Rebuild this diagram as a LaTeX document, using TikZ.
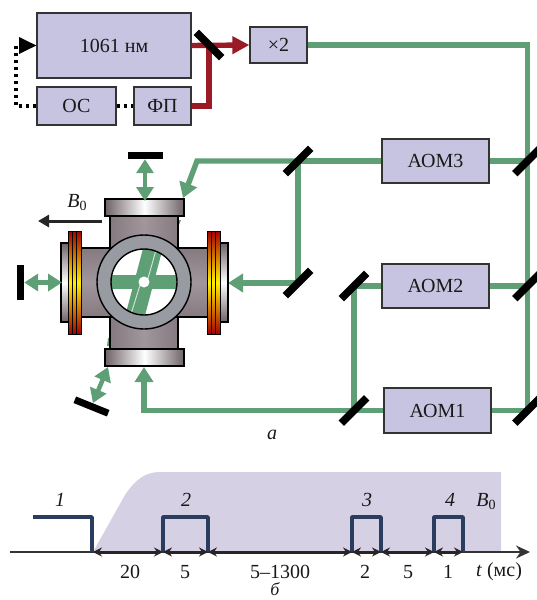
\documentclass[tikz,border=0pt]{standalone}
\usepackage{fontspec}
\setmainfont{Liberation Serif}
\usetikzlibrary{arrows.meta,calc}
\definecolor{boxc}{HTML}{C6C4E1}
\definecolor{beamg}{HTML}{5F9F76}
\definecolor{beamr}{HTML}{9A1B25}
\definecolor{area}{HTML}{D5D0E3}
\definecolor{pulse}{HTML}{2B3D5E}
\definecolor{tube}{HTML}{857A80}
\definecolor{tubel}{HTML}{A0969C}
\definecolor{flange}{HTML}{6E6266}
\definecolor{ringc}{HTML}{999BA2}
\newcommand{\bzero}{\textit{B}\raisebox{-3pt}{\fontsize{14}{14}\selectfont 0}}
\tikzset{
  lbox/.style={draw=black!80,line width=1.3pt,fill=boxc,inner sep=0pt,font=\fontsize{20}{20}\selectfont,text=black!90},
  beam/.style={draw=beamg,line width=5.4pt},
  rbeam/.style={draw=beamr,line width=5.4pt},
  gtip/.style={beam,-{Triangle[length=15pt,width=18pt]}},
  dbl/.style={draw=beamg,line width=4.5pt,{Triangle[length=14pt,width=17pt]}-{Triangle[length=14pt,width=17pt]}},
  mirror/.style={fill=black,inner sep=0pt,minimum width=36pt,minimum height=7.5pt},
  stop/.style={fill=black,inner sep=0pt},
  dots/.style={draw=black,line width=3.5pt,dash pattern=on 3.5pt off 3.5pt},
  pulseln/.style={draw=pulse,line width=3.6pt,line join=round},
  span/.style={draw=black!85,line width=3pt,{Stealth[length=9pt,width=9pt]}-{Stealth[length=9pt,width=9pt]}},
  lab/.style={inner sep=0pt,font=\fontsize{20}{20}\selectfont,text=black!90},
  ilab/.style={inner sep=0pt,font=\fontsize{20}{20}\selectfont\itshape,text=black!90},
  pipe/.style={draw=black,line width=1.4pt},
}
\begin{document}
\begin{tikzpicture}[x=1pt,y=-1pt]
\useasboundingbox (0,0) rectangle (536,600);
% boxes
\node[lbox,minimum width=154pt,minimum height=65pt] (las) at (114,45.5) {1061 нм};
\node[lbox,minimum width=79pt,minimum height=38pt] (os) at (76.5,106) {ОС};
\node[lbox,minimum width=57pt,minimum height=38pt] (fp) at (162.5,106) {ФП};
\node[lbox,minimum width=57pt,minimum height=36pt] (dbl2) at (278.5,45) {×2};
\node[lbox,minimum width=107pt,minimum height=44pt] (aom3) at (435.5,161) {АОМ3};
\node[lbox,minimum width=107pt,minimum height=44pt] (aom2) at (435.5,286) {АОМ2};
\node[lbox,minimum width=107pt,minimum height=45pt] (aom1) at (437.5,410.5) {АОМ1};
% mirror positions
\coordinate (mTop) at (209,45);
\coordinate (cU) at (527.5,45);
\coordinate (mR3) at (527.5,161);
\coordinate (mR2) at (527.5,286);
\coordinate (mR1) at (527.5,410.5);
\coordinate (mL3) at (298,161);
\coordinate (mL4) at (298,283);
\coordinate (mA2) at (354,286);
\coordinate (mA1) at (354,410.5);
\coordinate (cBend) at (197,161);
\coordinate (tipA) at (183,198);
\coordinate (tipB) at (228,283);
\coordinate (tipC) at (144,367);
% dotted feedback
\coordinate (fbA) at (16,106);
\coordinate (fbB) at (16,45.5);
\draw[dots] (os.east) -- (fp.west);
\draw[dots] (os.west) -- (fbA) -- (fbB) -- (20,45.5);
\draw[draw=none,fill=black] (las.west) -- (19,37) -- (19,54) -- cycle;
% red beams
\draw[rbeam,-{Triangle[length=17pt,width=17pt]}] (las.east) -- (dbl2.west);
\draw[rbeam] (fp.east) -| (mTop);
% green beams
\draw[beam] (dbl2.east) -- (cU) -- (mR1) -- (aom1.east);
\draw[beam] (mR3) -- (aom3.east);
\draw[beam] (mR2) -- (aom2.east);
\draw[beam] (aom3.west) -- (mL3) -- (mL4);
\draw[gtip] (mL4) -- (tipB);
\draw[gtip] (mL3) -- (cBend) -- (tipA);
\draw[beam] (aom2.west) -- (mA2) -- (mA1);
\draw[beam] (aom1.west) -- (mA1);
\draw[gtip] (mA1) -- (tipC |- mA1) -- (tipC);
% mirrors
\node[mirror,rotate=-45] (m0) at (mTop) {};
\node[mirror,rotate=45] (m1) at (mR3) {};
\node[mirror,rotate=45] (m2) at (mR2) {};
\node[mirror,rotate=45] (m3) at (mR1) {};
\node[mirror,rotate=45] (m4) at (mL3) {};
\node[mirror,rotate=45] (m5) at (mL4) {};
\node[mirror,rotate=45] (m6) at (mA2) {};
\node[mirror,rotate=45] (m7) at (mA1) {};
% chamber
\fill[beamg] (178,220) -- (181,220) -- (176,232) -- (178,232) -- cycle;
\fill[beamg] (108,338) -- (110,338) -- (110,346) -- (107,346) -- cycle;
\shade[left color=tube,right color=tube,middle color=tubel,pipe] (110,215) rectangle (178,350);
\shade[top color=tube,bottom color=tube,middle color=tubel,pipe] (78,248) rectangle (210,317);
\fill[tubel] (111,249) rectangle (177,316);
\shade[left color=flange,right color=flange,middle color=white,pipe] (105,199) rectangle (184,216);
\shade[left color=flange,right color=flange,middle color=white,pipe] (105,349) rectangle (184,366);
\shade[top color=flange,bottom color=flange,middle color=white,pipe] (61,243) rectangle (70,322);
\shade[top color=flange,bottom color=flange,middle color=white,pipe] (219,243) rectangle (228,322);
% coils
\foreach \cx in {68,72.3,76.6,207,211.3,215.6}{
  \fill[bottom color=red!65!black,top color=red!65!black,middle color=yellow!90!orange]
    (\cx,231) rectangle ++(4.3,103);
  \draw[black,line width=.8pt] (\cx,231) rectangle ++(4.3,103);
}
% ring and window
\fill[white] (144,282) circle[radius=33];
\begin{scope}
\clip (144,282) circle[radius=33];
\draw[beamg,line width=14pt] (111,282) -- (177,282);
\draw[beamg,line width=19pt] (153,248) -- (135,316);
\draw[white!70!beamg,line width=1pt] (156,250) -- (147,282);
\draw[white!70!beamg,line width=1pt] (141,282) -- (131,314);
\fill[white] (144,282) circle[radius=5.5];
\end{scope}
\draw[pipe,fill=ringc,even odd rule] (144,282) circle[radius=47] (144,282) circle[radius=33];
% stops and double arrows
\node[stop,minimum width=35pt,minimum height=7pt] (sTop) at (145,155.5) {};
\node[stop,minimum width=7pt,minimum height=35pt] (sLeft) at (20.5,282.5) {};
\node[stop,rotate=-22,minimum width=36pt,minimum height=7pt] (sLow) at (91.5,406.5) {};
\coordinate (fTop) at (145,201);
\coordinate (fLeft) at (62,282.5);
\coordinate (fLow) at (108,367);
\draw[dbl] (sTop.south) -- (fTop);
\draw[dbl] (sLeft.east) -- (fLeft);
\draw[dbl] (sLow.north) -- (fLow);
% B0 arrow
\coordinate (bA) at (102,221);
\coordinate (bB) at (38,221);
\draw[draw=black!85,line width=3pt,-{Triangle[length=11pt,width=12pt]}] (bA) -- (bB);
\node[lab] (b0a) at (77,203) {\bzero};
\node[ilab] (la) at (272,435) {а};
% timing
\fill[area] (93,552) -- (125,495) .. controls (135,480) and (145,472) .. (160,472) -- (501,472) -- (501,552) -- cycle;
\draw[draw=black!80,line width=1.4pt,-{Stealth[length=14pt,width=13pt]}] (10,552) -- (530,552);
\draw[pulseln] (33,517) -- (92,517) -- (92,552);
\draw[pulseln] (163,552) -- (163,517) -- (208,517) -- (208,552);
\draw[pulseln] (352,552) -- (352,517) -- (381,517) -- (381,552);
\draw[pulseln] (434,552) -- (434,517) -- (463,517) -- (463,552);
\foreach \a/\b in {93/163,163/208,208/352,352/381,381/434,434/463}{
  \draw[span] (\a,552) -- (\b,552);
}
\node[ilab] (n1) at (60,500) {1};
\node[ilab] (n2) at (186,500) {2};
\node[ilab] (n3) at (367,500) {3};
\node[ilab] (n4) at (450,500) {4};
\node[lab] (b0b) at (486,502) {\bzero};
\node[lab] (t1) at (130,572) {20};
\node[lab] (t2) at (185,572) {5};
\node[lab] (t3) at (280,572) {5–1300};
\node[lab] (t4) at (365,572) {2};
\node[lab] (t5) at (408,572) {5};
\node[lab] (t6) at (448,572) {1};
\node[lab] (t7) at (499,572) {\textit{t} (мс)};
\node[inner sep=0pt,font=\fontsize{18}{18}\selectfont\itshape,text=black!90] (lb) at (275,589) {б};
\end{tikzpicture}
\end{document}
